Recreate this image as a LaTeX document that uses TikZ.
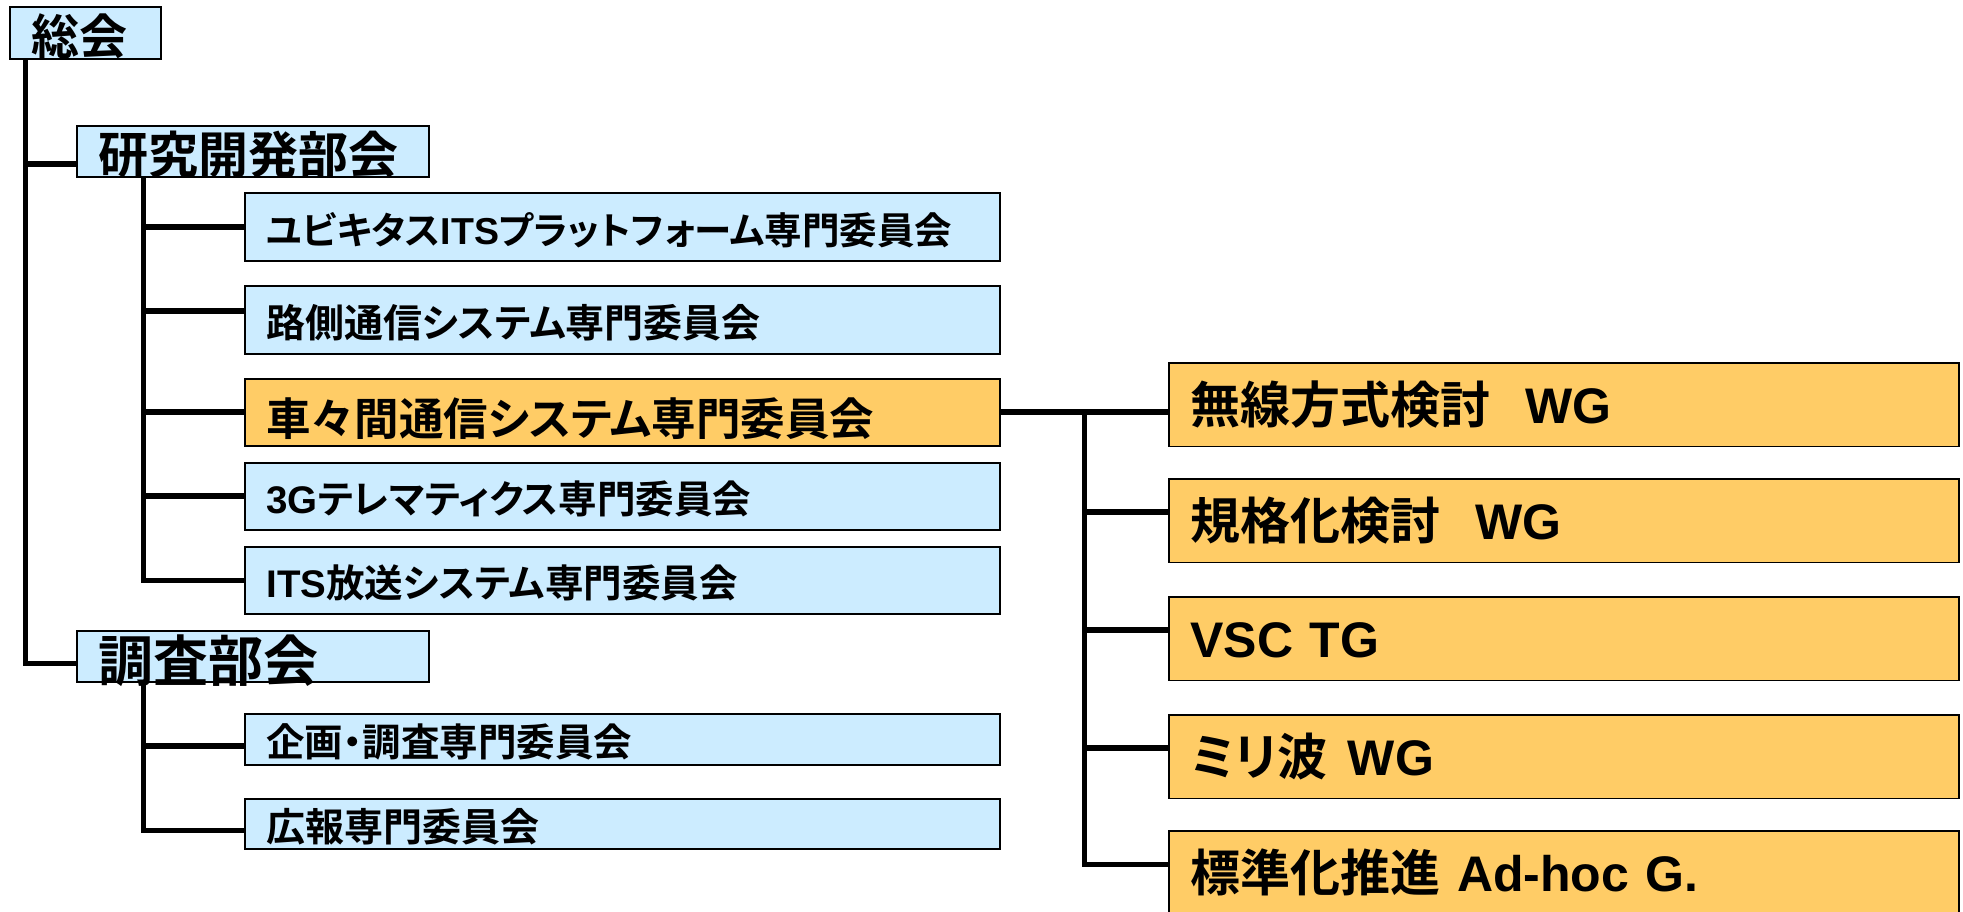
\documentclass[tikz,border=0pt]{standalone}
\usepackage{fontspec}
\setmainfont{Noto Sans CJK JP}[BoldFont={Noto Sans CJK JP Bold}, RawFeature={+palt}]
\newfontfamily\lat{Liberation Sans}
\newcommand\LS[1]{{\lat\bfseries #1}}
\definecolor{lblue}{HTML}{CCECFF}
\definecolor{lorange}{HTML}{FFCC66}
\tikzset{
  bx/.style={draw=black, line width=1.8pt, anchor=north west, inner ysep=0pt,
             inner xsep=21.5pt, align=left, text depth=0pt},
  bluebox/.style={bx, fill=lblue},
  orangebox/.style={bx, fill=lorange},
  combox/.style={bluebox, text width=712pt, text height=35pt,
                 font=\bfseries\fontsize{#1}{#1}\selectfont},
  combox/.default=38.5pt,
  wgbox/.style={orangebox, text width=747pt, minimum height=83.5pt, text height=37pt,
                font=\bfseries\fontsize{50pt}{54pt}\selectfont},
  conn/.style={draw=black, line width=6pt},
  bus/.style={draw=black, line width=5pt}
}
\begin{document}
\begin{tikzpicture}[x=1pt,y=-1pt]
\useasboundingbox (0,0) rectangle (1963,911);
% top level
\node[bluebox, text width=108pt, minimum height=52pt, text height=43.5pt,
      font=\bfseries\fontsize{48pt}{50pt}\selectfont] (soukai) at (9,6) {総会};
\node[bluebox, text width=309pt, minimum height=51pt, text height=45pt,
      font=\bfseries\fontsize{50pt}{54pt}\selectfont] (kenkyu) at (76,125) {研究開発部会};
\node[bluebox, text width=309pt, minimum height=51pt, text height=49.7pt,
      font=\bfseries\fontsize{55pt}{58pt}\selectfont] (chousa) at (76,630) {調査部会};
% committees
\node[combox=37.5pt, minimum height=68pt] (c1) at (244,192) {ユビキタス\LS{ITS}プラットフォーム専門委員会};
\node[combox=39pt, minimum height=68pt] (c2) at (244,285) {路側通信システム専門委員会};
\node[combox=44.5pt, minimum height=67pt, fill=lorange, text height=46pt] (c3) at (244,378) {車々間通信システム専門委員会};
\node[combox, minimum height=67pt] (c4) at (244,462) {\LS{3G}テレマティクス専門委員会};
\node[combox, minimum height=67pt] (c5) at (244,546) {\LS{ITS}放送システム専門委員会};
\node[combox, minimum height=51pt] (c6) at (244,713) {企画・調査専門委員会};
\node[combox=39pt, minimum height=50pt] (c7) at (244,798) {広報専門委員会};
% working groups
\node[wgbox] (w1) at (1168,362) {無線方式検討\hspace{0.7em}\LS{WG}};
\node[wgbox] (w2) at (1168,478) {規格化検討\hspace{0.7em}\LS{WG}};
\node[wgbox] (w3) at (1168,596) {\LS{VSC TG}};
\node[wgbox] (w4) at (1168,714) {ミリ波\hspace{0.4em}\LS{WG}};
\node[wgbox] (w5) at (1168,830) {標準化推進 \LS{Ad-hoc G.}};
% bus positions and junctions
\coordinate (busA) at (25,0);
\coordinate (busB) at (143,0);
\coordinate (busD) at (1084,0);
\coordinate (kenJ) at ([yshift=-12.5pt]kenkyu.west);
\coordinate (chouJ) at ([yshift=-7.5pt]chousa.west);
\coordinate (c2J) at ([yshift=9pt]c2.west);
\coordinate (c6J) at ([yshift=-6.5pt]c6.west);
\coordinate (c7J) at ([yshift=-7pt]c7.west);
\coordinate (w2J) at ([yshift=8.5pt]w2.west);
\coordinate (w3J) at ([yshift=8.5pt]w3.west);
\coordinate (w4J) at ([yshift=8.5pt]w4.west);
\coordinate (w5J) at ([yshift=8.5pt]w5.west);
% main bus
\draw[bus] (soukai.south -| busA) -- (busA |- chouJ) -- (chouJ);
\draw[conn] (busA |- kenJ) -- (kenJ);
% research bus
\draw[bus] (kenkyu.south -| busB) -- (busB |- c5.west) -- (c5.west);
\draw[conn] (busB |- c1.west) -- (c1.west);
\draw[conn] (busB |- c2J) -- (c2J);
\draw[conn] (busB |- c3.west) -- (c3.west);
\draw[conn] (busB |- c4.west) -- (c4.west);
% survey bus
\draw[bus] (chousa.south -| busB) -- (busB |- c7J) -- (c7J);
\draw[conn] (busB |- c6J) -- (c6J);
% WG bus
\draw[conn] (c3.east) -- (c3.east -| w1.west);
\draw[bus] (busD |- c3.east) -- (busD |- w5J) -- (w5J);
\draw[conn] (busD |- w2J) -- (w2J);
\draw[conn] (busD |- w3J) -- (w3J);
\draw[conn] (busD |- w4J) -- (w4J);
\end{tikzpicture}
\end{document}
